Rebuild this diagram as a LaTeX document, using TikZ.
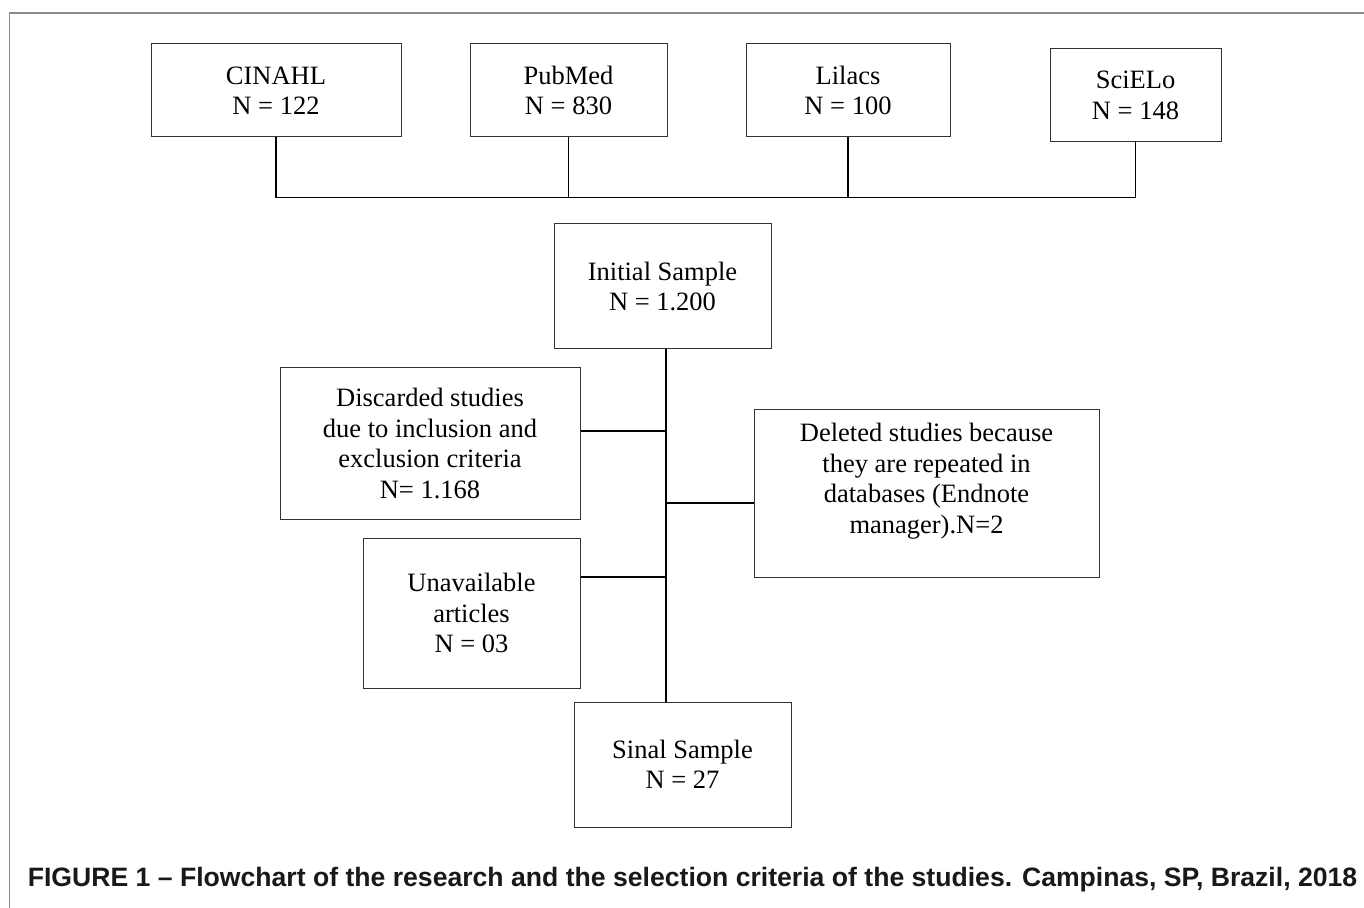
\documentclass[tikz,border=0pt]{standalone}
\usepackage{fontspec}
\setmainfont{Liberation Serif}
\newfontfamily\capfont{Liberation Sans}

\begin{document}
\begin{tikzpicture}[x=0.5pt, y=-0.5pt,
  box/.style={draw=black!80, line width=0.5pt, align=center, inner sep=0pt, font=\fontsize{13.25pt}{15.25pt}\selectfont},
  link/.style={line width=0.8pt},
  frame/.style={draw=black!45, line width=0.7pt},
  caption/.style={font=\capfont\bfseries\fontsize{13.3pt}{16pt}\selectfont, text=black!90, anchor=base, inner sep=0pt}]
\useasboundingbox (0,0) rectangle (1364,908);
\draw[frame] (1364,13) -- (9.5,13) -- (9.5,908);
% databases
\node[box, minimum width=125pt, minimum height=46.5pt] (cin) at (276,90.5) {CINAHL\\N = 122};
\node[box, minimum width=98.5pt, minimum height=46.5pt] (pub) at (568.5,90.5) {PubMed\\N = 830};
\node[box, minimum width=102pt, minimum height=46.5pt] (lil) at (848,90.5) {Lilacs\\N = 100};
\node[box, minimum width=85.5pt, minimum height=46.5pt] (sci) at (1135.5,95.5) {SciELo\\N = 148};
\coordinate (bus) at (0,197.5);
\draw[link] (cin.south) -- (cin.south |- bus) -- (sci.south |- bus) -- (sci.south);
\foreach \db in {pub,lil}
  \draw[link] (\db.south) -- (\db.south |- bus);
% selection
\node[box, minimum width=108.5pt, minimum height=62.5pt] (init) at (662.5,286.5) {Initial Sample\\N = 1.200};
\node[box, minimum width=150pt, minimum height=75.5pt] (disc) at (430,443.5) {Discarded studies\\due to inclusion and\\exclusion criteria\\N= 1.168};
\node[box, minimum width=108.5pt, minimum height=75pt] (unav) at (471.5,613) {Unavailable\\articles\\N = 03};
\node[box, minimum width=172.5pt, minimum height=83.5pt] (del) at (926.5,493.5) {Deleted studies because\\they are repeated in\\databases (Endnote\\manager).N=2\\\mbox{}};
\node[box, minimum width=108.5pt, minimum height=62.5pt] (fin) at (682.5,764.5) {Sinal Sample\\N = 27};
\coordinate (spine) at (666,0);
\coordinate (t1) at (666,431);
\coordinate (t2) at (666,503);
\coordinate (t3) at (666,577);
\draw[link] (init.south -| spine) -- (fin.north -| spine);
\draw[link] (disc.east |- t1) -- (t1);
\draw[link] (del.west |- t2) -- (t2);
\draw[link] (unav.east |- t3) -- (t3);
% caption
\node[caption] (cap) at (692.5,886.5) {FIGURE 1 – Flowchart of the research and the selection criteria of the studies. Campinas, SP, Brazil, 2018};
\end{tikzpicture}
\end{document}
